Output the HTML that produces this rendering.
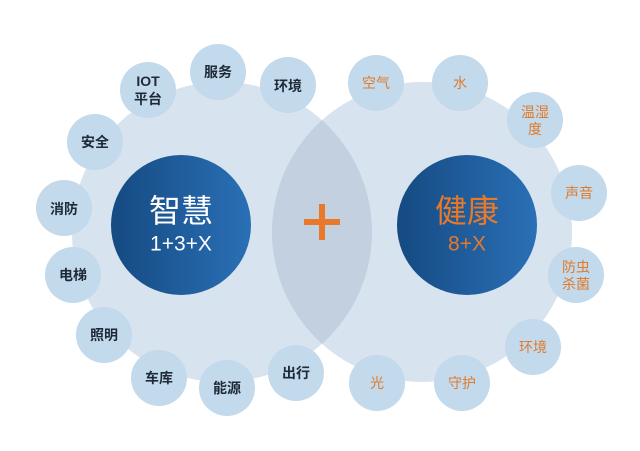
<!DOCTYPE html>
<html><head><meta charset="utf-8"><style>
html,body{margin:0;padding:0;background:#fff;}
svg{display:block;}
text{font-family:"Liberation Sans","Noto Sans CJK SC",sans-serif;text-anchor:middle;dominant-baseline:central;}
.s{fill:#c3d9ec;}
.b{font-size:14px;fill:#1e2a38;font-weight:bold;}
.o{font-size:14px;fill:#e07b2c;}
</style></head><body>
<svg width="640" height="451" viewBox="0 0 640 451" xmlns="http://www.w3.org/2000/svg">
<defs>
<linearGradient id="g" x1="0" x2="1" y1="0" y2="0"><stop offset="0" stop-color="#154a82"/><stop offset="1" stop-color="#2a70b6"/></linearGradient>
<clipPath id="cl"><circle cx="222" cy="232" r="150"/></clipPath>
</defs>
<circle cx="222" cy="232" r="150" fill="#d7e3ef"/>
<circle cx="422" cy="232" r="150" fill="#d7e3ef"/>
<circle cx="422" cy="232" r="150" fill="#c2d0e0" clip-path="url(#cl)"/>
<circle cx="181" cy="225" r="70" fill="url(#g)"/>
<circle cx="467" cy="225" r="70" fill="url(#g)"/>
<text x="181" y="211" style="font-size:32px;fill:#fff">智慧</text>
<text x="181" y="244" style="font-size:21px;fill:#fff">1+3+X</text>
<text x="467" y="211" style="font-size:32px;fill:#e8782a">健康</text>
<text x="467" y="244" style="font-size:21px;fill:#e8782a">8+X</text>
<rect x="304" y="219" width="36" height="6" fill="#e8782a"/>
<rect x="319" y="204" width="6" height="36" fill="#e8782a"/>
<g>
<circle class="s" cx="148" cy="90" r="28"/><text class="b" x="148" y="81">IOT</text><text class="b" x="148" y="99">平台</text>
<circle class="s" cx="218" cy="72" r="28"/><text class="b" x="218" y="72">服务</text>
<circle class="s" cx="288" cy="85" r="28"/><text class="b" x="288" y="86">环境</text>
<circle class="s" cx="95" cy="142" r="28"/><text class="b" x="95" y="142">安全</text>
<circle class="s" cx="64" cy="208" r="28"/><text class="b" x="64" y="209">消防</text>
<circle class="s" cx="73" cy="275" r="28"/><text class="b" x="73" y="275">电梯</text>
<circle class="s" cx="104" cy="335" r="28"/><text class="b" x="104" y="335">照明</text>
<circle class="s" cx="159" cy="378" r="28"/><text class="b" x="159" y="378">车库</text>
<circle class="s" cx="227" cy="388" r="28"/><text class="b" x="227" y="388">能源</text>
<circle class="s" cx="296" cy="373" r="28"/><text class="b" x="296" y="373">出行</text>
<circle class="s" cx="376" cy="83" r="28"/><text class="o" x="376" y="83">空气</text>
<circle class="s" cx="460" cy="83" r="28"/><text class="o" x="460" y="83">水</text>
<circle class="s" cx="535" cy="120" r="28"/><text class="o" x="535" y="112">温湿</text><text class="o" x="535" y="129">度</text>
<circle class="s" cx="579" cy="193" r="28"/><text class="o" x="579" y="193">声音</text>
<circle class="s" cx="576" cy="275" r="28"/><text class="o" x="576" y="267">防虫</text><text class="o" x="576" y="284">杀菌</text>
<circle class="s" cx="533" cy="347" r="28"/><text class="o" x="533" y="347">环境</text>
<circle class="s" cx="462" cy="383" r="28"/><text class="o" x="462" y="383">守护</text>
<circle class="s" cx="377" cy="383" r="28"/><text class="o" x="377" y="383">光</text>
</g>
</svg>
</body></html>
